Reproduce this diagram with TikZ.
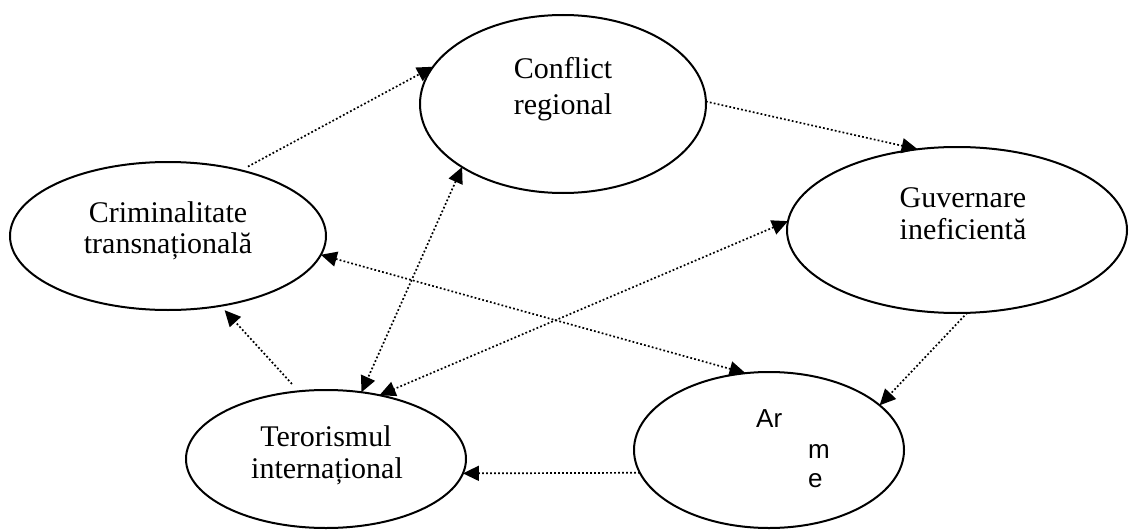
\documentclass[tikz,border=0pt]{standalone}
\usepackage{fontspec}
\setmainfont{Liberation Serif}
\newfontfamily\armfont{Liberation Sans}
\usetikzlibrary{shapes.geometric,arrows.meta}
\begin{document}
\begin{tikzpicture}[x=1pt,y=-1pt,
 bub/.style={ellipse,draw,line width=2pt,inner sep=0pt,outer sep=0pt},
 lbl/.style={anchor=base,font=\fontsize{30}{34}\selectfont,inner sep=0pt},
 albl/.style={anchor=base west,font=\armfont\fontsize{26}{30}\selectfont,inner sep=0pt},
 tip/.style={},
 link/.style={line width=1.7pt,dash pattern=on 1.8pt off 2.2pt,-{Triangle[length=16pt,width=15pt]}},
 link2/.style={link,{Triangle[length=16pt,width=15pt]}-{Triangle[length=16pt,width=15pt]}}]
\useasboundingbox[fill=white] (0,0) rectangle (1129,532);
% ellipses
\node[bub,minimum width=286pt,minimum height=178pt] (C) at (563,104) {};
\node[bub,minimum width=340pt,minimum height=166pt] (G) at (957,230) {};
\node[bub,minimum width=316pt,minimum height=148pt] (K) at (168,236) {};
\node[bub,minimum width=280pt,minimum height=138pt] (T) at (326,459) {};
\node[bub,minimum width=270pt,minimum height=156pt] (A) at (769,450) {};
% labels
\node[lbl] (c1) at (563,79) {Conflict};
\node[lbl] (c2) at (563,115) {regional};
\node[lbl] (g1) at (963,207) {Guvernare};
\node[lbl] (g2) at (963,239) {ineficientă};
\node[lbl] (k1) at (168,222) {Criminalitate};
\node[lbl] (k2) at (168,253) {transnațională};
\node[lbl] (t1) at (326,446) {Terorismul};
\node[lbl] (t2) at (327,478) {internațional};
\node[albl] (a1) at (756,427) {Ar};
\node[albl] (a2) at (808,458) {m};
\node[albl] (a3) at (808,487) {e};
% connectors
\draw[link,shorten <=8pt] (K.42) -- (C.164);
\draw[link] (C.1) -- (G.116);
\draw[link2] (K.-7) -- (A.107);
\draw[link2] (C.212) -- (T.62);
\draw[link2] (G.177) -- (T.50);
\draw[link,shorten <=10pt,shorten >=6pt] (T.112) -- (K.-53);
\draw[link] (G.-83) -- (A.22);
\draw[link] (A.190) -- (T.-6);
\end{tikzpicture}
\end{document}
